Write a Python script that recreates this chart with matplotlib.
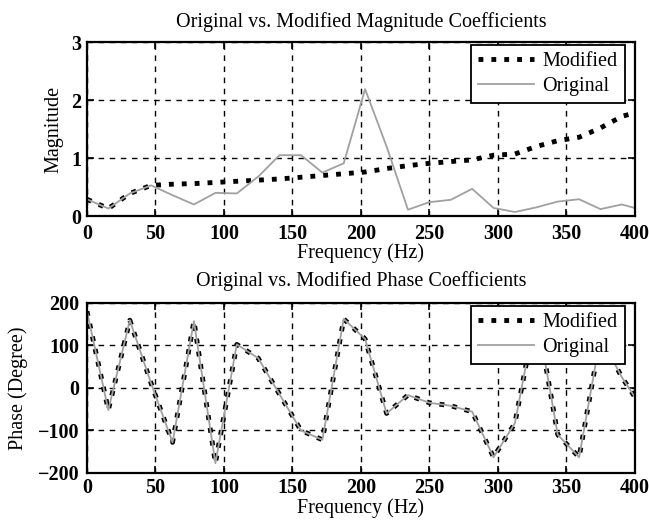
import matplotlib
matplotlib.use("Agg")
import matplotlib.pyplot as plt
import numpy as np

# frequency bins (Hz), spacing 15.625
freq = [0, 15.6, 31.3, 46.9, 62.5, 78.1, 93.8, 109.4, 125, 140.6, 156.3, 171.9, 187.5,
        203.1, 218.8, 234.4, 250, 265.6, 281.3, 296.9, 312.5, 328.1, 343.8, 359.4,
        375, 390.6, 406.3]

mag_original = [0.29, 0.13, 0.39, 0.53, 0.36, 0.20, 0.40, 0.39, 0.68, 1.05, 1.05, 0.75,
                0.91, 2.19, 1.20, 0.11, 0.24, 0.28, 0.47, 0.14, 0.07, 0.15, 0.25, 0.29,
                0.12, 0.20, 0.10]
mag_modified = [0.29, 0.13, 0.39, 0.53, 0.55, 0.56, 0.58, 0.60, 0.62, 0.64, 0.67, 0.70,
                0.73, 0.76, 0.82, 0.87, 0.91, 0.94, 0.97, 1.05, 1.07, 1.20, 1.30, 1.36,
                1.52, 1.72, 1.82]

phase_original = [180, -52, 159, 10, -128, 157, -177, 102, 70, -15, -100, -122, 162,
                  115, -60, -17, -35, -42, -56, -163, -83, 180, -110, -163, 120, 25, -52]
phase_modified = list(phase_original)

plt.rcParams['font.family'] = ['Liberation Serif', 'DejaVu Serif']
plt.rcParams['font.size'] = 14

fig = plt.figure(figsize=(6.49, 5.27), dpi=100)
ax1 = fig.add_axes([0.134, 0.590, 0.844, 0.330])
ax2 = fig.add_axes([0.134, 0.1025, 0.844, 0.323])

def style(ax, title, ylabel, ylim, yticks, xpad, ypad, tpad, xlpad, ylpad):
    ax.set_xlim(0, 400)
    ax.set_ylim(*ylim)
    ax.set_xticks(range(0, 401, 50))
    ax.set_yticks(yticks)
    ax.grid(True, color='black', linestyle=(0, (4, 4)), linewidth=1.0)
    ax.tick_params(direction='in', top=True, right=True, length=5, width=1.2,
                   labelsize=14.5)
    ax.tick_params(axis='x', pad=xpad)
    ax.tick_params(axis='y', pad=ypad)
    for lab in ax.get_xticklabels() + ax.get_yticklabels():
        lab.set_fontweight('bold')
    for s in ax.spines.values():
        s.set_linewidth(1.6)
    ax.set_title(title, fontsize=14.5, pad=tpad)
    ax.set_xlabel('Frequency (Hz)', fontsize=14.5, labelpad=xlpad)
    ax.set_ylabel(ylabel, fontsize=14.5, labelpad=ylpad)
    leg = ax.legend(loc='upper right', bbox_to_anchor=(1 - 10 / 548, 1 - 3 / 172),
                    borderaxespad=0, fancybox=False, edgecolor='black', framealpha=1,
                    handlelength=2.8, borderpad=0.35, labelspacing=0.28,
                    handletextpad=0.4, fontsize=14.5)
    leg.get_frame().set_linewidth(1.3)

ax1.plot(freq, mag_modified, color='black', linestyle=':', linewidth=3.5, label='Modified')
ax1.plot(freq, mag_original, color='#a0a0a0', linewidth=1.3, label='Original')
style(ax1, 'Original vs. Modified Magnitude Coefficients', 'Magnitude', (0, 3), [0, 1, 2, 3],
      xpad=5.5, ypad=4, tpad=11, xlpad=0, ylpad=6)

ax2.plot(freq, phase_modified, color='black', linestyle=':', linewidth=3.5, label='Modified')
ax2.plot(freq, phase_original, color='#a0a0a0', linewidth=1.3, label='Original')
style(ax2, 'Original vs. Modified Phase Coefficients', 'Phase (Degree)', (-200, 200),
      [-200, -100, 0, 100, 200], xpad=3.5, ypad=5.5, tpad=12, xlpad=0.5, ylpad=7)

fig.savefig('out.png', dpi=100)
